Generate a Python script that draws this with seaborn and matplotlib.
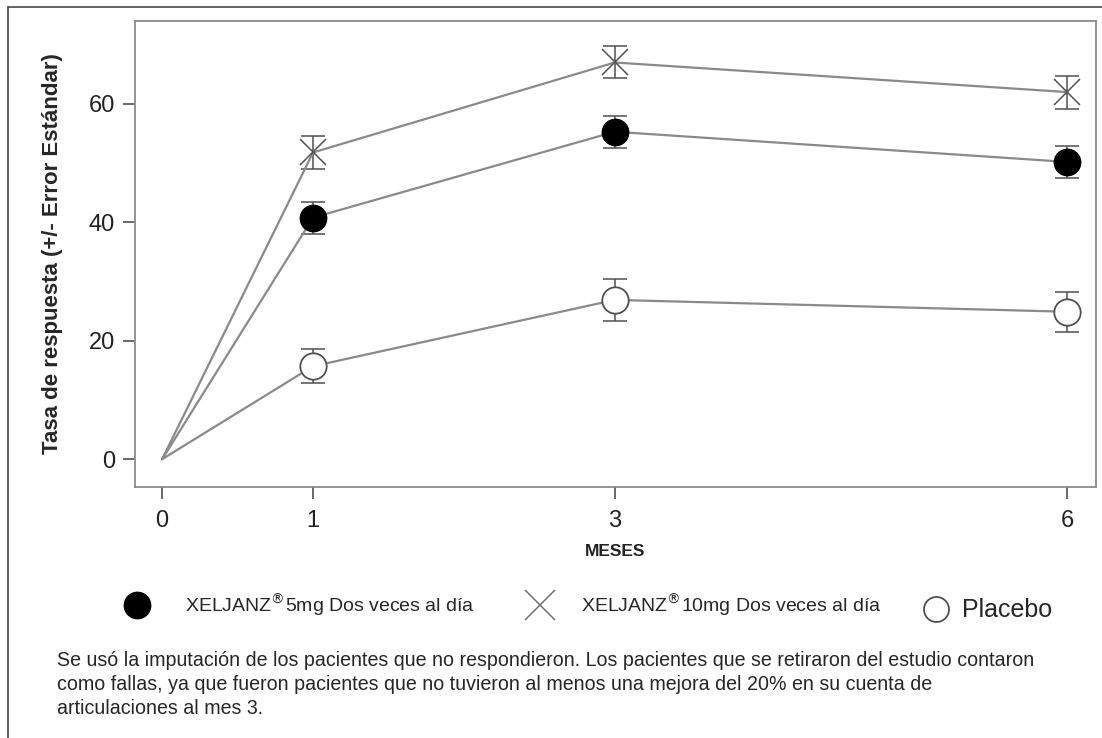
import matplotlib
matplotlib.use("Agg")
import matplotlib.pyplot as plt
from matplotlib.lines import Line2D
import pandas as pd
import seaborn as sns

# data
months = [0, 1, 3, 6]
resp_5mg = [0, 40.8, 55.3, 50.2]
se_5mg = [0, 2.7, 2.7, 2.7]
resp_10mg = [0, 51.8, 67.0, 62.0]
se_10mg = [0, 2.8, 2.7, 2.8]
resp_placebo = [0, 15.7, 26.9, 24.9]
se_placebo = [0, 2.9, 3.5, 3.4]

x_ticks = [0, 1, 3, 6]
y_ticks = [0, 20, 40, 60]

label_5mg = r"XELJANZ$^{\circledR}$5mg Dos veces al día"
label_10mg = r"XELJANZ$^{\circledR}$10mg Dos veces al día"
label_placebo = "Placebo"
x_label = "MESES"
y_label = "Tasa de respuesta (+/- Error Estándar)"
note = ("Se usó la imputación de los pacientes que no respondieron. Los pacientes que se retiraron del estudio contaron\n"
        "como fallas, ya que fueron pacientes que no tuvieron al menos una mejora del 20% en su cuenta de\n"
        "articulaciones al mes 3.")

sns.set_style("white")
plt.rcParams['font.family'] = ['Liberation Sans', 'DejaVu Sans']

df = pd.DataFrame({
    'mes': months * 3,
    'tasa': resp_5mg + resp_10mg + resp_placebo,
    'se': se_5mg + se_10mg + se_placebo,
    'grupo': ['5mg'] * 4 + ['10mg'] * 4 + ['placebo'] * 4,
})

line_col = '#8a8a8a'
dark = '#505050'

fig = plt.figure(figsize=(11.02, 7.38), dpi=100)
ax = fig.add_axes([0.1225, 0.3401, 0.9946 - 0.1225, 0.9715 - 0.3401])

styles = {
    '5mg': dict(marker='o', ms=19, mfc='black', mec='black', mew=1),
    '10mg': dict(marker='x', ms=19, mfc='none', mec=dark, mew=1.1),
    'placebo': dict(marker='o', ms=19, mfc='white', mec=dark, mew=1.3),
}

for g, st in styles.items():
    d = df[df['grupo'] == g]
    ax.errorbar(d['mes'][1:], d['tasa'][1:], yerr=d['se'][1:], fmt='none',
                ecolor=dark, elinewidth=1.1, capsize=8.5, capthick=1.1, zorder=2)
    sns.lineplot(data=d, x='mes', y='tasa', ax=ax, color=line_col, linewidth=1.6,
                 markevery=[1, 2, 3], zorder=3, legend=False, **st)

ax.set_xlim(-0.18, 6.19)
ax.set_ylim(-4.7, 74)
ax.set_xticks(x_ticks)
ax.set_yticks(y_ticks)
ax.tick_params(axis='both', direction='out', length=8.5, width=1.2, color=dark,
               labelsize=17, labelcolor='#222222', pad=6, left=True, bottom=True)
ax.tick_params(axis='x', pad=8)
for s in ax.spines.values():
    s.set_color(line_col)
    s.set_linewidth(1.3)
ax.set_xlabel(x_label, fontsize=12.5, weight='bold', labelpad=9, color='#222222')
ax.set_ylabel(y_label, fontsize=16, weight='bold', labelpad=18)

# outer frame lines of the original picture
fig.add_artist(Line2D([8 / 1102, 8 / 1102], [0, 1 - 7 / 738], transform=fig.transFigure,
                      color='#555555', lw=1.3))
fig.add_artist(Line2D([8 / 1102, 1], [1 - 7 / 738, 1 - 7 / 738], transform=fig.transFigure,
                      color='#555555', lw=1.3))

# legend row
ly = (738 - 605) / 738
fig.add_artist(Line2D([137 / 1102], [ly], transform=fig.transFigure, **styles['5mg'],
                      linestyle='none'))
fig.add_artist(Line2D([540 / 1102], [ly], transform=fig.transFigure, marker='x', ms=21,
                      mec='#707070', mew=1.1, linestyle='none'))
fig.add_artist(Line2D([936 / 1102], [(738 - 609) / 738], transform=fig.transFigure,
                      marker='o', ms=18, mfc='white', mec=dark, mew=1.3, linestyle='none'))
fig.text(185 / 1102, ly, label_5mg, fontsize=14, va='center', ha='left')
fig.text(581 / 1102, ly, label_10mg, fontsize=14, va='center', ha='left')
fig.text(962 / 1102, (738 - 610) / 738, label_placebo, fontsize=18, va='center', ha='left')

fig.text(57 / 1102, (738 - 651) / 738, note, fontsize=14.1,
         va='top', ha='left', linespacing=1.33)

fig.savefig('out.png', dpi=100)
plt.close(fig)
